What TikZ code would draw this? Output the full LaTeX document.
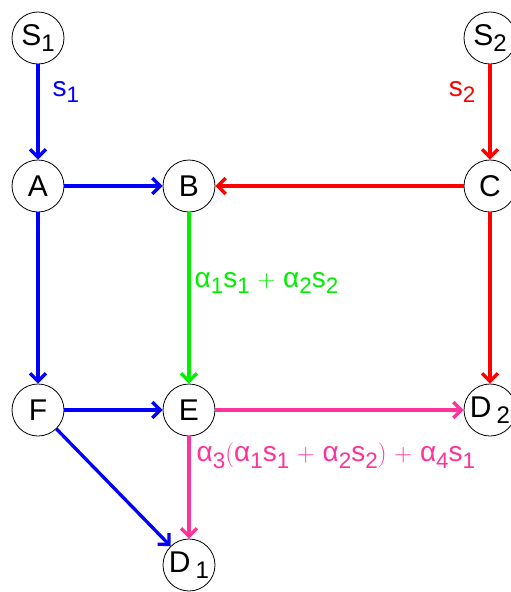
\documentclass[tikz,border=0pt]{standalone}
\usepackage{fontspec}
\setmainfont{Liberation Sans}
\usepackage{graphicx}
\usetikzlibrary{arrows.meta}
\definecolor{pinkc}{RGB}{255,51,153}
\definecolor{greenc}{RGB}{0,240,0}
\newcommand\sbs[1]{\raisebox{-0.22em}{\scalebox{0.8}{#1}}}
\begin{document}
\begin{tikzpicture}[x=1pt,y=-1pt,
  nd/.style={circle,draw,line width=0.8pt,minimum size=52pt,inner sep=0pt,font=\fontsize{30}{30}\selectfont},
  ed/.style={line width=3.3pt,-{Straight Barb[length=8pt,width=16pt,line width=3.3pt]}},
  lb/.style={font=\fontsize{28}{28}\selectfont,inner sep=0pt}]
\useasboundingbox (0,0) rectangle (511,592);
\node[nd] (S1) at (38,38) {S\sbs{1}};
\node[nd] (S2) at (490,38) {S\sbs{2}};
\node[nd] (A) at (38,186) {A};
\node[nd] (B) at (189,186) {B};
\node[nd] (C) at (490,186) {C};
\node[nd] (F) at (38,410) {F};
\node[nd] (E) at (189,410) {E};
\node[nd] (D2) at (490,410) {D\,\sbs{2}};
\node[nd] (D1) at (189,565) {D\,\sbs{1}};
\draw[ed,blue] (S1) -- node[lb,pos=0.29,anchor=west,xshift=13pt] {s\sbs{1}} (A);
\draw[ed,red] (S2) -- node[lb,pos=0.29,anchor=east,xshift=-13pt] {s\sbs{2}} (C);
\draw[ed,blue] (A) -- (B);
\draw[ed,red] (C) -- (B);
\draw[ed,blue] (A) -- (F);
\draw[ed,greenc] (B) -- node[lb,pos=0.41,anchor=west,xshift=4pt] {α\sbs{1}s\sbs{1} $+$ α\sbs{2}s\sbs{2}} (E);
\draw[ed,red] (C) -- (D2);
\draw[ed,blue] (F) -- (E);
\draw[ed,blue] (F) -- (D1);
\draw[ed,pinkc] (E) -- (D2);
\draw[ed,pinkc] (E) -- node[lb,pos=0.19,anchor=west,xshift=6pt] {α\sbs{3}$($α\sbs{1}s\sbs{1} $+$ α\sbs{2}s\sbs{2}$)$ $+$ α\sbs{4}s\sbs{1}} (D1);
\end{tikzpicture}
\end{document}
